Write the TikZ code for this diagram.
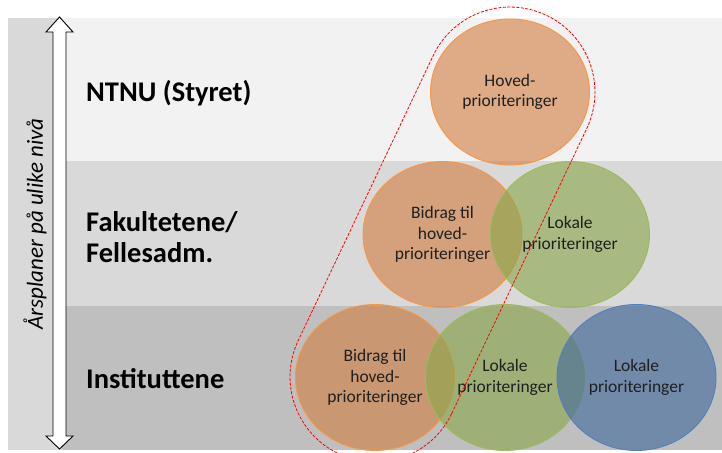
\documentclass[tikz,border=0pt]{standalone}
\usepackage{fontspec}
\setmainfont{Carlito}
\usetikzlibrary{shapes.geometric}
\definecolor{bandA}{HTML}{F2F2F2}
\definecolor{bandB}{HTML}{D9D9D9}
\definecolor{bandC}{HTML}{BFBFBF}
\definecolor{orfill}{RGB}{209,125,62}
\definecolor{ordraw}{HTML}{F79646}
\definecolor{grfill}{RGB}{136,166,73}
\definecolor{grdraw}{HTML}{9BBB59}
\definecolor{blfill}{RGB}{63,103,156}
\definecolor{bldraw}{HTML}{4F81BD}
\tikzset{
  bubble/.style={ellipse, minimum width=159pt, minimum height=146pt, inner sep=0pt,
    line width=0.9pt, fill opacity=0.6, draw opacity=1, text opacity=1,
    align=center, font=\fontsize{17.5}{20.5}\selectfont, text=black!88},
  orb/.style={bubble, fill=orfill, draw=ordraw},
  grb/.style={bubble, fill=grfill, draw=grdraw},
  blb/.style={bubble, fill=blfill, draw=bldraw},
  level/.style={font=\fontsize{28.5}{31.5}\selectfont\bfseries, align=left, inner sep=0pt, text=black},
  capsule/.style={draw=red, line width=0.8pt, dash pattern=on 3pt off 1.5pt},
}
\begin{document}
\begin{tikzpicture}[x=1pt,y=-1pt]
\useasboundingbox (0,0) rectangle (722,452);
\clip (0,0) rectangle (722,452);
% bands
\fill[bandB] (8,18) rectangle (62,450);
\fill[bandA] (62,18) rectangle (722,161);
\fill[bandB] (62,161) rectangle (722,306);
\fill[bandC] (62,306) rectangle (722,450);
% double arrow
\draw[fill=white, line width=0.9pt, line join=miter]
  (59.5,17) -- (73,32) -- (66,32) -- (66,436) -- (73,436) -- (59.5,449)
  -- (46,436) -- (53,436) -- (53,32) -- (46,32) -- cycle;
\node[rotate=90, font=\fontsize{23}{27}\selectfont\itshape, text=black] (axis) at (35,224) {Årsplaner på ulike nivå};
% level labels
\node[level, anchor=base west] (ntnu) at (86,101) {NTNU (Styret)};
\node[level, anchor=west] (fak) at (86,237) {Fakultetene/\\Fellesadm.};
\node[level, anchor=base west] (inst) at (86,388) {Instituttene};
% bubbles
\node[orb] (hoved) at (510,92) {Hoved-\\prioriteringer};
\node[orb] (fbid) at (442.5,234.5) {Bidrag til\\hoved-\\prioriteringer};
\node[grb] (flok) at (570,234.5) {Lokale\\prioriteringer};
\node[orb] (ibid) at (375,377.5) {Bidrag til\\hoved-\\prioriteringer};
\node[grb] (ilok) at (505,377.5) {Lokale\\prioriteringer};
\node[blb] (iblu) at (636.5,377.5) {Lokale\\prioriteringer};
% red dashed capsule around the "hoved" chain
\draw[capsule] (451.8,413.4) -- (586.8,128.4)
  arc[start angle=25.3, end angle=-154.7, radius=85]
  -- (298.2,340.6)
  arc[start angle=205.3, end angle=25.3, radius=85] -- cycle;
\end{tikzpicture}
\end{document}
